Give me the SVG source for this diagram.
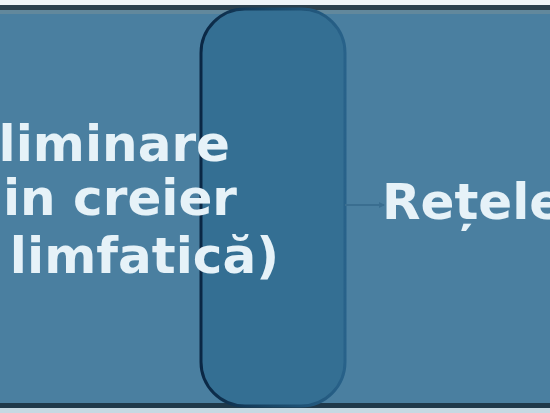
<svg xmlns="http://www.w3.org/2000/svg" width="550" height="413" viewBox="0 0 550 413">
  <style>
    .lbl { font-family: "DejaVu Sans", "Liberation Sans", sans-serif; font-weight: bold; font-size: 50px; fill: #e6f2f8; }
  </style>
  <defs>
    <linearGradient id="edge" x1="0" y1="0" x2="1" y2="0">
      <stop offset="0" stop-color="#0a2744"/>
      <stop offset="0.5" stop-color="#1a4868"/>
      <stop offset="1" stop-color="#28628a"/>
    </linearGradient>
    <marker id="ah" markerWidth="6" markerHeight="6" refX="5" refY="3" orient="auto" markerUnits="userSpaceOnUse">
      <path d="M0,0 L6,3 L0,6 z" fill="#3a6e90"/>
    </marker>
  </defs>
  <rect x="0" y="0" width="550" height="413" fill="#4a7fa0"/>
  <rect x="0" y="0" width="550" height="5" fill="#eef4f8"/>
  <rect x="0" y="5" width="550" height="5" fill="#2a404e"/>
  <rect x="0" y="10" width="550" height="4" fill="#62889c"/>
  <rect x="0" y="403" width="550" height="5" fill="#1f394a"/>
  <rect x="0" y="408" width="550" height="5" fill="#c6d9e3"/>
  <g id="lane">
    <rect x="201" y="9" width="144" height="397" rx="44" ry="44" fill="#346f93" stroke="url(#edge)" stroke-width="3"/>
  </g>
  <g id="connectors">
    <line x1="345" y1="205" x2="384" y2="205" stroke="#3a6e90" stroke-width="2" marker-end="url(#ah)"/>
  </g>
  <g id="node-eliminare">
    <text class="lbl" x="230" y="161" text-anchor="end">liminare</text>
    <text class="lbl" x="237" y="215" text-anchor="end">in creier</text>
    <text class="lbl" x="279" y="273" text-anchor="end">limfatică)</text>
  </g>
  <g id="node-retele">
    <text class="lbl" x="382" y="219">Rețele</text>
  </g>
</svg>
